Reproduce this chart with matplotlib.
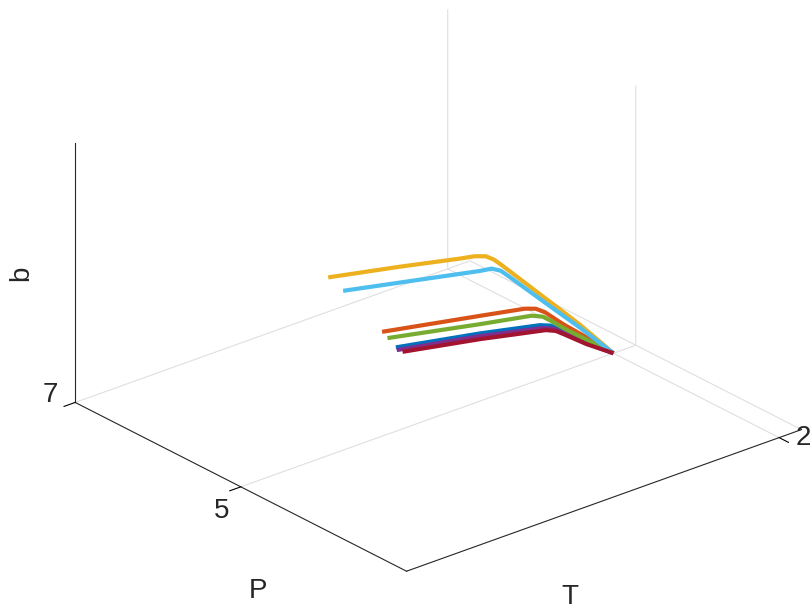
import matplotlib
matplotlib.use("Agg")
import matplotlib.pyplot as plt

# Curves b(T) at P = 5
P_level = 5.0

T_blue = [0.832, 1.283, 1.605, 1.664, 1.712, 1.819, 2.0]
b_blue = [7.969, 7.782, 7.629, 7.578, 7.494, 7.302, 7.0]

T_red = [0.758, 1.283, 1.524, 1.583, 1.632, 1.730, 1.873, 2.0]
b_red = [8.206, 7.985, 7.882, 7.836, 7.758, 7.544, 7.260, 7.0]

T_yellow = [0.469, 0.853, 1.175, 1.256, 1.315, 1.358, 1.401, 1.641, 1.819, 2.0]
b_yellow = [9.058, 8.885, 8.730, 8.695, 8.649, 8.578, 8.479, 7.901, 7.472, 7.0]

T_purple = [0.837, 1.283, 1.621, 1.680, 1.728, 1.836, 2.0]
b_purple = [7.934, 7.751, 7.584, 7.531, 7.447, 7.260, 7.0]

T_green = [0.787, 1.283, 1.562, 1.621, 1.669, 1.748, 1.873, 2.0]
b_green = [8.111, 7.889, 7.772, 7.715, 7.625, 7.466, 7.237, 7.0]

T_cyan = [0.549, 0.961, 1.283, 1.347, 1.395, 1.438, 1.641, 1.819, 2.0]
b_cyan = [8.841, 8.652, 8.504, 8.482, 8.420, 8.323, 7.849, 7.437, 7.0]

T_crimson = [0.868, 1.283, 1.637, 1.691, 1.739, 1.856, 2.0]
b_crimson = [7.890, 7.716, 7.547, 7.496, 7.416, 7.216, 7.0]

curves = [
    (T_blue, b_blue, "#0072BD"),
    (T_red, b_red, "#D95319"),
    (T_yellow, b_yellow, "#EDB120"),
    (T_purple, b_purple, "#7E2F8E"),
    (T_green, b_green, "#77AC30"),
    (T_cyan, b_cyan, "#4DBEEE"),
    (T_crimson, b_crimson, "#A2142F"),
]

T_ticks = [2]
P_ticks = [5]
b_ticks = [7]

plt.rcParams["font.family"] = ["Liberation Sans", "DejaVu Sans"]
plt.rcParams["grid.color"] = "#dfdfdf"
plt.rcParams["grid.linewidth"] = 0.8

fig = plt.figure(figsize=(8.1, 6.13), dpi=100)
ax = fig.add_subplot(projection="3d", proj_type="ortho")
ax.set_position([0.0309, 0.0196, 1, 1])

for T, b, color in curves:
    ax.plot(T, [P_level] * len(T), b, color=color, linewidth=3.0,
            solid_joinstyle="round", solid_capstyle="butt")

ax.set_xlim(0, 2.12)
ax.set_ylim(3, 7)
ax.set_zlim(7, 10)
ax.set_box_aspect((1, 1, 0.557), zoom=1.241)
ax.view_init(elev=25.3, azim=-130)

ax.set_xticks(T_ticks)
ax.set_yticks(P_ticks)
ax.set_zticks(b_ticks)
ax.set_xticklabels([])
ax.set_yticklabels([])
ax.set_zticklabels([])

for axis in (ax.xaxis, ax.yaxis, ax.zaxis):
    axis.set_pane_color((1, 1, 1, 0))
    axis.line.set_color("#262626")
    axis.line.set_linewidth(0.8)
    # ticks drawn outward from the box, as in the MATLAB figure
    axis._axinfo["tick"]["inward_factor"] = 0.35
    axis._axinfo["tick"]["outward_factor"] = 0.0
    axis._axinfo["tick"]["color"] = "#262626"
ax.grid(True)

# tick labels and axis labels, placed like the MATLAB figure
W, H = 810, 613
txt = dict(fontsize=20, color="#262626", ha="center", va="center")
fig.text(50 / W, 1 - 395 / H, str(b_ticks[0]), **txt)
fig.text(222 / W, 1 - 511 / H, str(P_ticks[0]), **txt)
fig.text(803 / W, 1 - 438 / H, str(T_ticks[0]), **txt)
fig.text(258 / W, 1 - 591 / H, "P", **txt)
fig.text(570 / W, 1 - 597 / H, "T", **txt)
fig.text(21 / W, 1 - 273 / H, "b", rotation=90, **txt)

fig.savefig("out.png", dpi=100)
